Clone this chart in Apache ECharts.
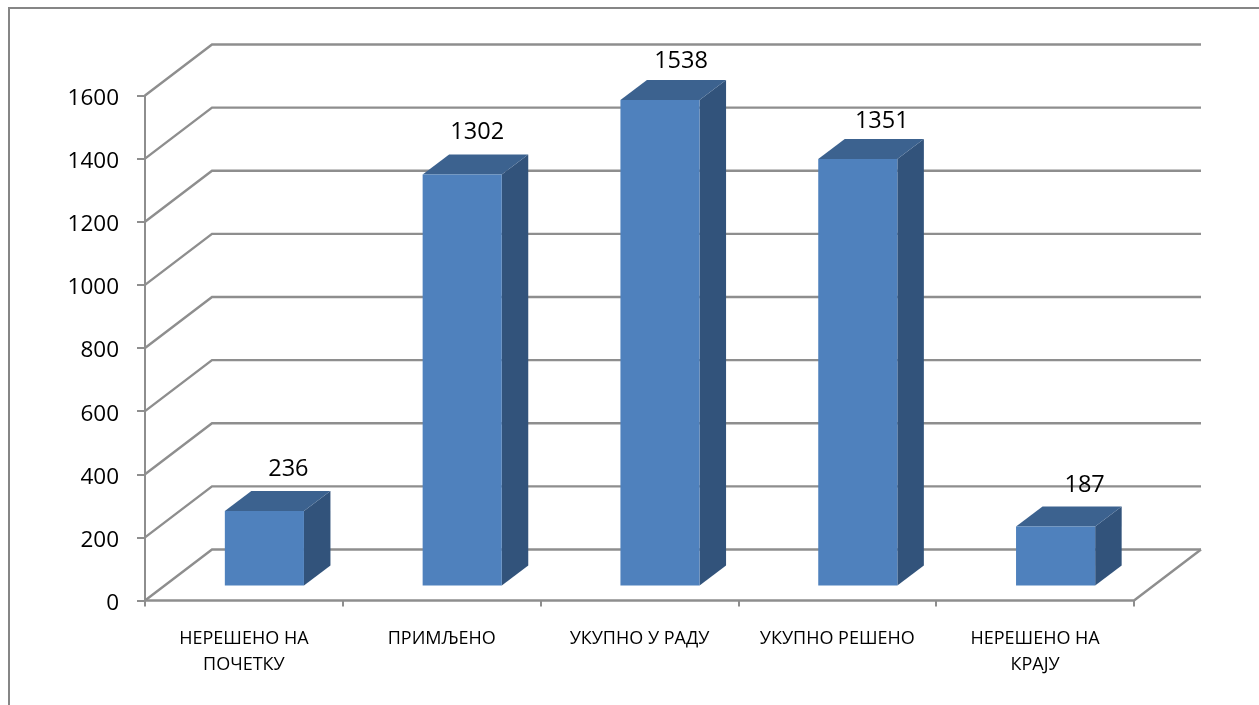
<!DOCTYPE html>
<html>
<head>
<meta charset="utf-8">
<style>html,body{margin:0;padding:0;background:#fff}#chart{width:1259px;height:705px}</style>
<script src="https://cdn.jsdelivr.net/npm/echarts@6/dist/echarts.min.js"></script>
</head>
<body>
<div id="chart"></div>
<script>
const categories = ['НЕРЕШЕНО НА\nПОЧЕТКУ', 'ПРИМЉЕНО', 'УКУПНО У РАДУ', 'УКУПНО РЕШЕНО', 'НЕРЕШЕНО НА\nКРАЈУ'];
const values = [236, 1302, 1538, 1351, 187];
const yTicks = [0, 200, 400, 600, 800, 1000, 1200, 1400, 1600];

const FONT = '"Open Sans", "Noto Sans", sans-serif';
const GRID_COLOR = '#8e8e8e';
const WALL = [67, -51];
const BAR_SHIFT = 20.5, BAR_LIFT = 15, BAR_DEPTH = [26.5, -20], BAR_RATIO = 0.4;
const LABEL_NUDGE = [[24, -42], [15, -42.5], [21, -39], [24, -38], [29, -41]];

const chart = echarts.init(document.getElementById('chart'), null, {renderer: 'canvas', width: 1259, height: 705});

function renderWall(params, api) {
  const rect = params.coordSys;
  const y = api.coord([0, api.value(1)])[1];
  const x0 = rect.x, x1 = rect.x + WALL[0], x2 = rect.x + rect.width + WALL[0];
  const children = [{
    type: 'polyline',
    shape: {points: [[x0, y], [x1, y + WALL[1]], [x2, y + WALL[1]]]},
    style: {stroke: GRID_COLOR, lineWidth: 2.4, fill: 'none'}
  }];
  if (api.value(1) === 0) {
    children.push({
      type: 'polyline',
      shape: {points: [[x2, y + WALL[1]], [rect.x + rect.width, y], [rect.x, y]]},
      style: {stroke: GRID_COLOR, lineWidth: 2.4, fill: 'none'}
    });
  }
  return {type: 'group', children};
}

function renderBar(params, api) {
  const i = api.value(0), v = api.value(1);
  const cx = api.coord([i, v])[0] + BAR_SHIFT;
  const w = api.size([1, 0])[0] * BAR_RATIO;
  const bottom = api.coord([i, 0])[1] - BAR_LIFT;
  const top = bottom - (api.coord([i, 0])[1] - api.coord([i, v])[1]);
  const l = cx - w / 2, r = cx + w / 2;
  const [dx, dy] = BAR_DEPTH;
  const nudge = LABEL_NUDGE[i];
  return {
    type: 'group',
    children: [
      {type: 'polygon', shape: {points: [[r, top], [r + dx, top + dy], [r + dx, bottom + dy], [r, bottom]]},
        style: {fill: '#32537b'}},
      {type: 'polygon', shape: {points: [[l, top], [l + dx, top + dy], [r + dx, top + dy], [r, top]]},
        style: {fill: '#3c628f'}},
      {type: 'rect', shape: {x: l, y: top, width: w, height: bottom - top},
        style: {fill: '#4f81bd'}},
      {type: 'text', x: cx + nudge[0], y: top + nudge[1],
        style: {text: String(v), fill: '#000', font: '23.5px ' + FONT, textAlign: 'center', textVerticalAlign: 'middle'}}
    ]
  };
}

chart.setOption({
  animation: false,
  backgroundColor: '#fff',
  graphic: [{
    type: 'rect', silent: true, z: -1,
    shape: {x: 9, y: 8, width: 1400, height: 900},
    style: {fill: 'none', stroke: '#868686', lineWidth: 2}
  }],
  grid: {left: 145, top: 95.5, width: 989, height: 505, containLabel: false},
  xAxis: {
    type: 'category', data: categories,
    axisLine: {show: false},
    axisTick: {show: true, alignWithLabel: false, length: 6, lineStyle: {color: GRID_COLOR, width: 2}},
    axisLabel: {color: '#000', fontFamily: FONT, fontSize: 18, lineHeight: 26, margin: 25, interval: 0}
  },
  yAxis: {
    type: 'value', min: 0, max: 1600, interval: 200,
    axisLine: {show: true, lineStyle: {color: GRID_COLOR, width: 2}},
    axisTick: {show: true, length: 8, lineStyle: {color: GRID_COLOR, width: 2}},
    axisLabel: {color: '#000', fontFamily: FONT, fontSize: 22.5, margin: 26, verticalAlign: 'top', lineHeight: 6,
      formatter: v => String(v)},
    splitLine: {show: false}
  },
  series: [
    {type: 'custom', name: 'wall', silent: true, z: 1, renderItem: renderWall,
      data: yTicks.map(t => [0, t]), encode: {x: 0, y: 1}},
    {type: 'custom', name: 'bars', z: 2, renderItem: renderBar,
      data: values.map((v, i) => [i, v]), encode: {x: 0, y: 1}}
  ]
});
</script>
</body>
</html>
